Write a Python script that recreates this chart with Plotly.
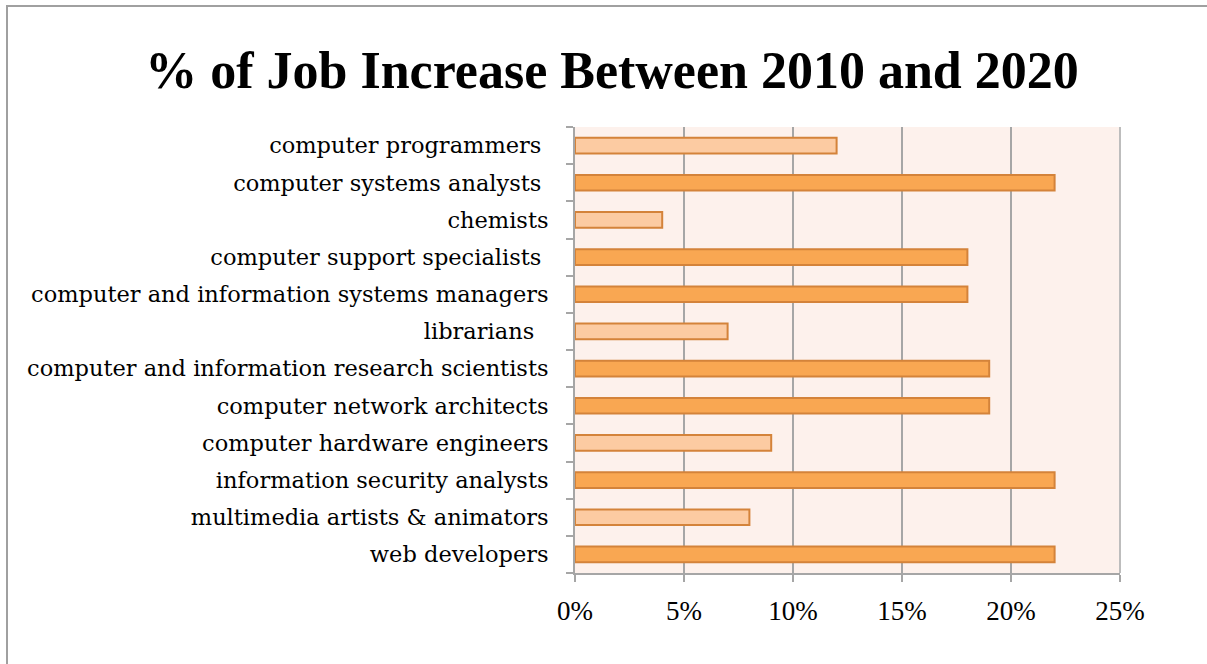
import plotly.graph_objects as go

categories = [
    "web developers",
    "multimedia artists & animators",
    "information security analysts",
    "computer hardware engineers",
    "computer network architects",
    "computer and information research scientists",
    "librarians\u00a0\u00a0",
    "computer and information systems managers",
    "computer support specialists\u00a0",
    "chemists",
    "computer systems analysts\u00a0",
    "computer programmers\u00a0",
]
values = [22, 8, 22, 9, 19, 19, 7, 18, 18, 4, 22, 12]
highlight = [True, False, True, False, True, True, False, True, True, False, True, False]
x_ticks = [0, 5, 10, 15, 20, 25]
x_tick_labels = ["0%", "5%", "10%", "15%", "20%", "25%"]
title_text = "% of Job Increase Between 2010 and 2020"

DARK = "#F9A752"
LIGHT = "#FCCBA2"
EDGE = "#D4833A"

fig = go.Figure(go.Bar(
    x=values,
    y=categories,
    orientation="h",
    width=0.42,
    marker=dict(color=[DARK if h else LIGHT for h in highlight],
                line=dict(color=EDGE, width=2)),
    hoverinfo="x+y",
))

L, R, T, B = 575, 87, 127, 91
W, H = 1207, 664
pw, ph = W - L - R, H - T - B

fig.update_layout(
    width=W, height=H,
    margin=dict(l=L, r=R, t=T, b=B, pad=0),
    paper_bgcolor="white",
    plot_bgcolor="#FDF1EC",
    showlegend=False,
    font=dict(family="DejaVu Serif", color="black"),
    title=dict(text="<b>" + title_text + "</b>", x=612 / W, xanchor="center",
               y=1 - 70 / H, yanchor="middle",
               font=dict(family="Liberation Serif", size=52, color="black")),
)
fig.update_xaxes(
    range=[0, 25], tickvals=x_ticks, ticktext=x_tick_labels,
    showgrid=True, gridcolor="#A6A6A6", gridwidth=1.5,
    showline=True, linecolor="#A6A6A6", linewidth=2,
    ticks="outside", ticklen=7, tickcolor="#A6A6A6", tickwidth=2,
    tickfont=dict(size=27, family="Liberation Serif", color="black"),
    ticklabelstandoff=6,
    zeroline=False, mirror=False, fixedrange=True,
)
fig.update_yaxes(
    showgrid=False, showline=True, linecolor="#A6A6A6", linewidth=2,
    ticks="outside", ticklen=7, tickcolor="#A6A6A6", tickwidth=2,
    tickson="boundaries",
    tickfont=dict(size=22.5, family="DejaVu Serif", color="black"),
    ticklabelstandoff=20,
    fixedrange=True,
)
# right border of plot area
fig.add_shape(type="line", xref="paper", yref="paper", x0=1, x1=1, y0=0, y1=1,
              line=dict(color="#BDBDBD", width=2))
# chart frame
fig.add_shape(type="rect", xref="paper", yref="paper",
              x0=(7 - L) / pw, x1=(W + 5 - L) / pw,
              y0=-(B + 5) / ph, y1=1 + (T - 6) / ph,
              line=dict(color="#A0A0A0", width=2), fillcolor="rgba(0,0,0,0)", layer="below")
fig.write_html("out.html", config={"displayModeBar": False},
               post_script="document.body.style.margin='0px';")
